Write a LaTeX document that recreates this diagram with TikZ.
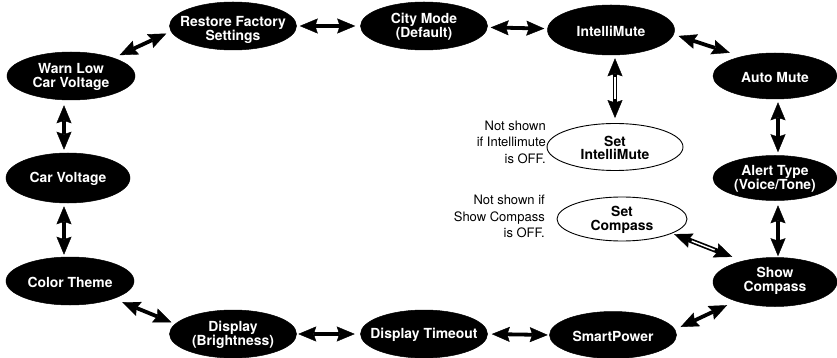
\documentclass[tikz,border=0pt]{standalone}
\usepackage{fontspec}
\setmainfont{TeX Gyre Heros}
\usetikzlibrary{arrows.meta,shapes.geometric,calc}
\tikzset{
  bigtip/.tip={Stealth[length=18pt,width=15pt,inset=2.5pt,line width=0.4pt]},
}
\begin{document}
\begin{tikzpicture}[x=1pt,y=-1pt,
  bn/.style={ellipse, fill=black, draw=black, line width=0.5pt, inner sep=0pt, minimum width=127pt, minimum height=48pt},
  wn/.style={ellipse, fill=white, draw=black, line width=0.9pt, inner sep=0pt, minimum width=136pt, minimum height=47pt},
  lbl/.style={text=white, font=\bfseries\fontsize{13.9}{13.8}\selectfont, align=center, inner sep=0pt, yshift=-1pt},
  wlbl/.style={lbl, text=black},
  note/.style={font=\fontsize{13}{16.3}\selectfont, align=right, inner sep=0pt},
  arr/.style={line width=3.8pt, arrows={bigtip-bigtip}},
  darr/.style={line width=4.8pt, arrows={bigtip-bigtip}},
  gap/.style={draw=white, line width=1.4pt},
]
\useasboundingbox (0,0) rectangle (837,358);

% nodes
\node[bn, label={[lbl, yshift=-3pt]center:Restore Factory\\Settings}] (rf) at (233,26) {};
\node[bn, label={[lbl]center:City Mode\\(Default)}] (cm) at (424,26) {};
\node[bn, minimum height=50pt, label={[lbl]center:IntelliMute}] (im) at (611,30) {};
\node[bn, minimum width=124pt, minimum height=46pt, label={[lbl]center:Auto Mute}] (am) at (775,76) {};
\node[bn, minimum width=128pt, label={[lbl]center:Warn Low\\Car Voltage}] (wl) at (71,76) {};
\node[bn, minimum width=124pt, minimum height=50pt, label={[lbl]center:Car Voltage}] (cv) at (68,178) {};
\node[bn, minimum width=128pt, label={[lbl]center:Color Theme}] (ct) at (70,281) {};
\node[bn, label={[lbl]center:Display\\(Brightness)}] (db) at (233,334) {};
\node[bn, label={[lbl]center:Display Timeout}] (dt) at (424,334) {};
\node[bn, minimum height=47pt, label={[lbl]center:SmartPower}] (sp) at (613,335) {};
\node[bn, minimum width=124pt, minimum height=49pt, label={[lbl, yshift=2pt]center:Show\\Compass}] (sc) at (775,282) {};
\node[bn, minimum width=124pt, minimum height=45pt, label={[lbl]center:Alert Type\\(Voice/Tone)}] (alt) at (775,178) {};
\node[wn, label={[wlbl]center:Set\\IntelliMute}] (si) at (615,147) {};
\node[wn, minimum width=130pt, minimum height=44pt, label={[wlbl]center:Set\\Compass}] (sco) at (622,219) {};

% notes
\node[note, anchor=north east] (n1) at (546,121) {Not shown\\if Intellimute\\is OFF.};
\node[note, anchor=north east] (n2) at (545,195) {Not shown if\\Show Compass\\is OFF.};

% connectors
\draw[arr, shorten <=6.5pt, shorten >=5pt] (wl.23) -- (rf.185);
\draw[arr, shorten <=3pt, shorten >=5pt] (rf) -- (cm);
\draw[arr, shorten <=3pt, shorten >=3pt] (cm) -- (im);
\draw[arr, shorten <=5pt, shorten >=12pt] (im.-4) -- (am.150);
\draw[darr, shorten <=3pt, shorten >=5pt] (si.north |- im.south) -- (si.north);
\draw[gap, shorten <=22pt, shorten >=24pt] (si.north |- im.south) -- (si.north);
\draw[arr, shorten <=3pt, shorten >=3pt] ([xshift=3pt]am.south) -- ([xshift=3pt]alt.north);
\draw[arr, shorten <=4.5pt, shorten >=1pt] ([xshift=3pt]alt.south) -- ([xshift=3pt]sc.north);
\draw[darr, shorten <=2pt, shorten >=11pt] (sco.-16) -- (sc.147);
\draw[gap, shorten <=21pt, shorten >=30pt] (sco.-16) -- (sc.147);
\draw[arr, shorten <=6pt, shorten >=9.5pt] (sp.5) -- (sc.206);
\draw[arr, shorten <=4pt, shorten >=1.5pt] (dt.east) -- (sp.west);
\draw[arr, shorten <=1.5pt, shorten >=5.5pt] (db.east) -- (dt.west);
\draw[arr, shorten <=9pt, shorten >=4pt] (ct.-22) -- (db.170);
\draw[arr, shorten <=3pt, shorten >=2pt] ([xshift=-4pt]cv.south) -- ([xshift=-4pt]cv.south |- ct.north);
\draw[arr, shorten <=5pt, shorten >=3pt] ([xshift=-7pt]wl.south) -- ([xshift=-7pt]wl.south |- cv.north);
\end{tikzpicture}
\end{document}
